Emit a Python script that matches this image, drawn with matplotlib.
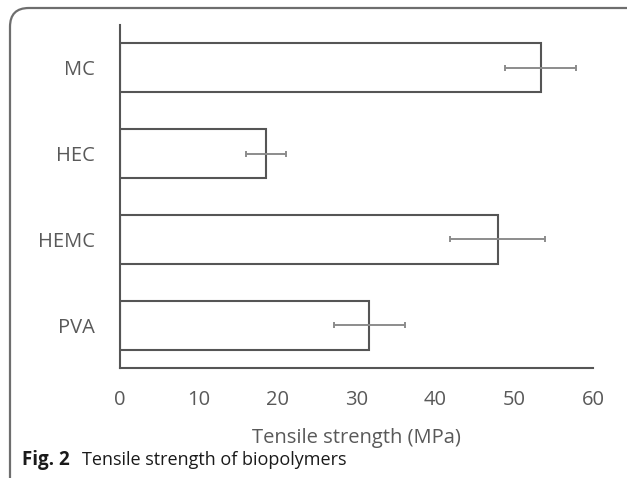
import matplotlib
matplotlib.use("Agg")
import matplotlib.pyplot as plt
from matplotlib.patches import FancyBboxPatch

# data
polymers = ["MC", "HEC", "HEMC", "PVA"]
strength = [53.4, 18.5, 47.9, 31.6]
strength_err = [4.5, 2.5, 6.0, 4.5]
x_ticks = [0, 10, 20, 30, 40, 50, 60]

plt.rcParams["font.family"] = ["Open Sans", "DejaVu Sans"]

W, H = 627, 478
fig = plt.figure(figsize=(W / 100, H / 100), dpi=100)

# rounded caption frame (only top and left edges visible)
frame = FancyBboxPatch((10 / W, -0.2), 1.2, (H - 8) / H + 0.2,
                       boxstyle="round,pad=0,rounding_size=0.03",
                       transform=fig.transFigure, fill=False,
                       edgecolor="#6e6e6e", linewidth=1.6, mutation_aspect=W / H)
fig.patches.append(frame)

ax = fig.add_axes([120 / W, (H - 368) / H, 473 / W, 343 / H])

ypos = list(range(len(polymers)))[::-1]
ax.barh(ypos, strength, height=0.57, color="white", edgecolor="#555555", linewidth=1.5)
ax.errorbar(strength, ypos, xerr=strength_err, fmt="none", ecolor="#8c8c8c",
            elinewidth=1.4, capsize=2, capthick=1.4)

ax.set_xlim(0, 60)
ax.set_ylim(-0.5, 3.5)
ax.set_yticks(ypos)
ax.set_yticklabels(polymers)
ax.set_xticks(x_ticks)
ax.tick_params(axis="both", length=0, labelsize=14.5, labelcolor="#595959")
ax.tick_params(axis="y", pad=18)
ax.tick_params(axis="x", pad=16)

for s in ["top", "right"]:
    ax.spines[s].set_visible(False)
for s in ["left", "bottom"]:
    ax.spines[s].set_color("#555555")
    ax.spines[s].set_linewidth(1.5)

ax.set_xlabel("Tensile strength (MPa)", fontsize=14.5, color="#595959", labelpad=13)

fig.text(22 / W, (H - 460) / H, "Fig. 2", fontsize=13.5, fontweight="bold",
         color="#1a1a1a", va="center", ha="left")
fig.text(82 / W, (H - 460) / H, "Tensile strength of biopolymers", fontsize=13,
         color="#1a1a1a", va="center", ha="left")

fig.savefig("out.png", dpi=100)
